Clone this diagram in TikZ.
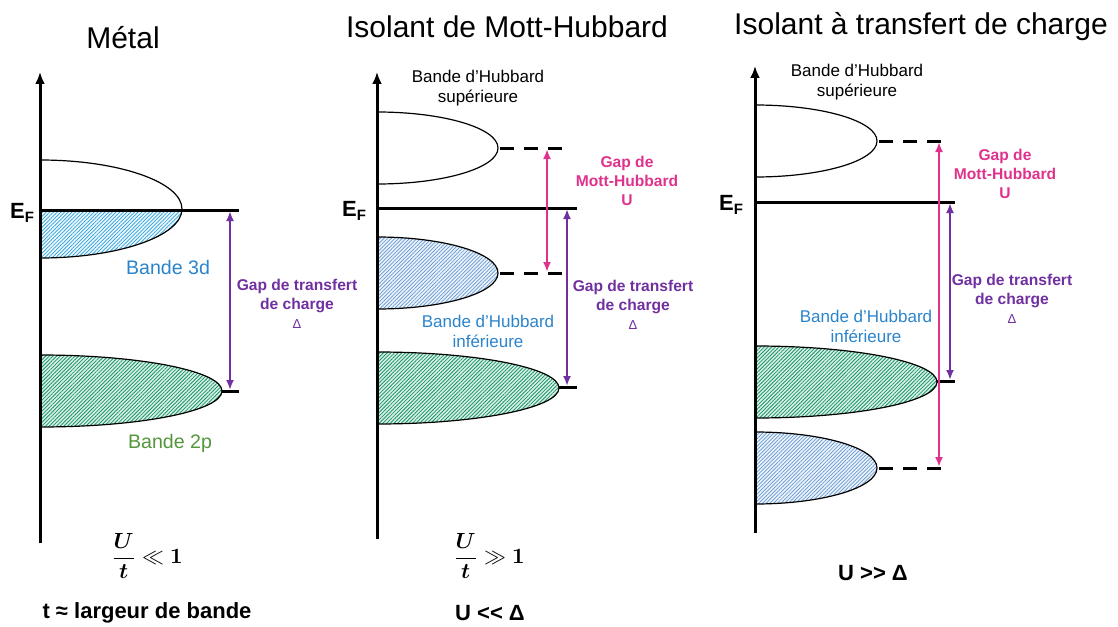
\documentclass[tikz,border=0pt]{standalone}
\usepackage[no-math]{fontspec}
\setmainfont{Liberation Sans}
\usepackage{amsmath,bm}
\usetikzlibrary{patterns.meta,arrows.meta}
\definecolor{txtblue}{RGB}{42,132,204}
\definecolor{txtgreen}{RGB}{84,150,60}
\definecolor{txtmag}{RGB}{222,50,140}
\definecolor{txtpur}{RGB}{112,48,160}
\definecolor{hatchcyan}{RGB}{40,160,220}
\definecolor{hatchblue}{RGB}{100,150,210}
\definecolor{hatchgreen}{RGB}{20,150,100}
\tikzset{
  axisline/.style={line width=1.5pt,-{Latex[length=6pt,width=5pt]}},
  efline/.style={line width=1.5pt},
  bandline/.style={line width=0.6pt},
  dashline/.style={line width=1.5pt,dash pattern=on 7pt off 5pt},
  gaparrow/.style={line width=1.1pt,{Latex[length=5pt,width=4pt]}-{Latex[length=5pt,width=4pt]}},
  cyanhatch/.style={pattern={Lines[angle=45,distance=1.3pt,line width=0.35pt]},pattern color=hatchcyan},
  bluehatch/.style={pattern={Lines[angle=45,distance=1.3pt,line width=0.35pt]},pattern color=hatchblue},
  greenhatch/.style={pattern={Lines[angle=45,distance=1.3pt,line width=0.4pt]},pattern color=hatchgreen},
  title/.style={font=\fontsize{15}{18}\selectfont},
  bandlbl/.style={align=center,font=\fontsize{8.5}{10}\selectfont},
  gaplbl/.style={align=center,font=\fontsize{7.8}{9.5}\selectfont\bfseries},
  eflbl/.style={font=\fontsize{11}{13}\selectfont\bfseries},
  cond/.style={font=\fontsize{11}{13}\selectfont\bfseries},
}
\begin{document}
\begin{tikzpicture}[x=0.5pt,y=-0.5pt]
\useasboundingbox (0,0) rectangle (1118,626);

% ================= Panel 1 : Metal =================
\node[title] (t1) at (123,38) {Métal};
\begin{scope}
  \clip (40,150) rectangle (260,210);
  \fill[white] (40,209) ellipse[x radius=142,y radius=49];
\end{scope}
\begin{scope}
  \clip (40,210) rectangle (260,270);
  \fill[hatchcyan!8] (40,209) ellipse[x radius=142,y radius=49];
  \fill[cyanhatch] (40,209) ellipse[x radius=142,y radius=49];
\end{scope}
\begin{scope}
  \clip (40,140) rectangle (260,270);
  \draw[bandline] (40,209) ellipse[x radius=142,y radius=49];
\end{scope}
\begin{scope}
  \clip (40,340) rectangle (260,440);
  \fill[hatchgreen!15] (40,391) ellipse[x radius=182,y radius=36];
  \fill[greenhatch] (40,391) ellipse[x radius=182,y radius=36];
  \draw[bandline] (40,391) ellipse[x radius=182,y radius=36];
\end{scope}
\coordinate (m-tip) at (222,391);
\coordinate (m-end) at (239,391);
\draw[efline] (m-tip) -- (m-end);
\coordinate (m-ax0) at (40,543);
\coordinate (m-ax1) at (40,72);
\draw[axisline] (m-ax0) -- (m-ax1);
\coordinate (m-ef0) at (40,210);
\coordinate (m-ef1) at (239,210);
\draw[efline] (m-ef0) -- (m-ef1);
\node[eflbl] (m-ef) at (22,213) {E\raisebox{-0.4ex}{\fontsize{7.5}{8}\selectfont F}};
\coordinate (m-a0) at (230,211);
\coordinate (m-a1) at (230,390);
\draw[gaparrow,txtpur] (m-a0) -- (m-a1);
\node[font=\fontsize{9.8}{12}\selectfont,text=txtblue] (m-3d) at (168,267) {Bande 3d};
\node[font=\fontsize{9.8}{12}\selectfont,text=txtgreen] (m-2p) at (170,443) {Bande 2p};
\node[gaplbl,text=txtpur] (m-gap) at (297,304) {Gap de transfert\\de charge\\{\normalfont\fontsize{6.5}{9.5}\selectfont Δ}};
\node (m-cond) at (147,556) {\fontsize{11}{13}\selectfont$\dfrac{\bm{U}}{\bm{t}}\ll\mathbf{1}$};
\node[cond] (m-t) at (147,613) {t ≈ largeur de bande};

% ================= Panel 2 : Mott-Hubbard =================
\node[title] (t2) at (507,27) {Isolant de Mott-Hubbard};
\begin{scope}
  \clip (377,100) rectangle (600,440);
  \fill[white] (377,148) ellipse[x radius=121,y radius=36];
  \draw[bandline] (377,148) ellipse[x radius=121,y radius=36];
  \fill[hatchblue!12] (377,273) ellipse[x radius=121,y radius=36];
  \fill[bluehatch] (377,273) ellipse[x radius=121,y radius=36];
  \draw[bandline] (377,273) ellipse[x radius=121,y radius=36];
  \fill[hatchgreen!15] (377,388) ellipse[x radius=182,y radius=36];
  \fill[greenhatch] (377,388) ellipse[x radius=182,y radius=36];
  \draw[bandline] (377,388) ellipse[x radius=182,y radius=36];
\end{scope}
\coordinate (h-up-tip) at (500,148);
\coordinate (h-up-end) at (568,148);
\draw[dashline] (h-up-tip) -- (h-up-end);
\coordinate (h-lo-tip) at (500,273);
\coordinate (h-lo-end) at (568,273);
\draw[dashline] (h-lo-tip) -- (h-lo-end);
\coordinate (h-2p-tip) at (559,387);
\coordinate (h-2p-end) at (577,387);
\draw[efline] (h-2p-tip) -- (h-2p-end);
\coordinate (h-ax0) at (377,539);
\coordinate (h-ax1) at (377,72);
\draw[axisline] (h-ax0) -- (h-ax1);
\coordinate (h-ef0) at (377,208);
\coordinate (h-ef1) at (577,208);
\draw[efline] (h-ef0) -- (h-ef1);
\node[eflbl] (h-ef) at (354,211) {E\raisebox{-0.4ex}{\fontsize{7.5}{8}\selectfont F}};
\coordinate (h-u0) at (547,149);
\coordinate (h-u1) at (547,272);
\draw[gaparrow,txtmag] (h-u0) -- (h-u1);
\coordinate (h-d0) at (567,209);
\coordinate (h-d1) at (567,386);
\draw[gaparrow,txtpur] (h-d0) -- (h-d1);
\node[bandlbl] (h-sup) at (478,88) {Bande d’Hubbard\\supérieure};
\node[bandlbl,text=txtblue] (h-inf) at (488,331) {Bande d’Hubbard\\inférieure};
\node[gaplbl,text=txtmag] (h-ugap) at (627,181) {Gap de\\Mott-Hubbard\\U};
\node[gaplbl,text=txtpur] (h-dgap) at (633,305) {Gap de transfert\\de charge\\{\normalfont\fontsize{6.5}{9.5}\selectfont Δ}};
\node (h-cond) at (489,556) {\fontsize{11}{13}\selectfont$\dfrac{\bm{U}}{\bm{t}}\gg\mathbf{1}$};
\node[cond] (h-ud) at (490,613) {U <{}< Δ};

% ================= Panel 3 : Charge transfer =================
\node[title] (t3) at (921,27) {Isolant à transfert de charge};
\begin{scope}
  \clip (755,95) rectangle (980,515);
  \fill[white] (755,141) ellipse[x radius=122,y radius=36];
  \draw[bandline] (755,141) ellipse[x radius=122,y radius=36];
  \fill[hatchgreen!15] (755,382) ellipse[x radius=182,y radius=36];
  \fill[greenhatch] (755,382) ellipse[x radius=182,y radius=36];
  \draw[bandline] (755,382) ellipse[x radius=182,y radius=36];
  \fill[hatchblue!12] (755,468) ellipse[x radius=122,y radius=36];
  \fill[bluehatch] (755,468) ellipse[x radius=122,y radius=36];
  \draw[bandline] (755,468) ellipse[x radius=122,y radius=36];
\end{scope}
\coordinate (c-up-tip) at (879,141);
\coordinate (c-up-end) at (945,141);
\draw[dashline] (c-up-tip) -- (c-up-end);
\coordinate (c-lo-tip) at (879,468);
\coordinate (c-lo-end) at (945,468);
\draw[dashline] (c-lo-tip) -- (c-lo-end);
\coordinate (c-2p-tip) at (937,381);
\coordinate (c-2p-end) at (955,381);
\draw[efline] (c-2p-tip) -- (c-2p-end);
\coordinate (c-ax0) at (755,533);
\coordinate (c-ax1) at (755,66);
\draw[axisline] (c-ax0) -- (c-ax1);
\coordinate (c-ef0) at (755,202);
\coordinate (c-ef1) at (955,202);
\draw[efline] (c-ef0) -- (c-ef1);
\node[eflbl] (c-ef) at (731,205) {E\raisebox{-0.4ex}{\fontsize{7.5}{8}\selectfont F}};
\coordinate (c-u0) at (939,142);
\coordinate (c-u1) at (939,467);
\draw[gaparrow,txtmag] (c-u0) -- (c-u1);
\coordinate (c-d0) at (950,203);
\coordinate (c-d1) at (950,380);
\draw[gaparrow,txtpur] (c-d0) -- (c-d1);
\node[bandlbl] (c-sup) at (857,82) {Bande d’Hubbard\\supérieure};
\node[bandlbl,text=txtblue] (c-inf) at (866,326) {Bande d’Hubbard\\inférieure};
\node[gaplbl,text=txtmag] (c-ugap) at (1005,174) {Gap de\\Mott-Hubbard\\U};
\node[gaplbl,text=txtpur] (c-dgap) at (1012,299) {Gap de transfert\\de charge\\{\normalfont\fontsize{6.5}{9.5}\selectfont Δ}};
\node[cond] (c-ud) at (873,573) {U >{}> Δ};
\end{tikzpicture}
\end{document}
